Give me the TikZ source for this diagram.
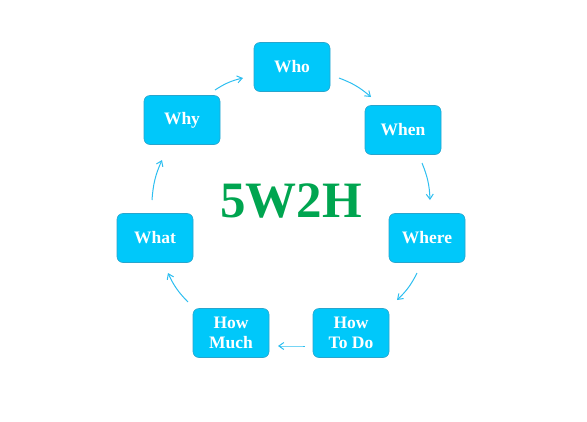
\documentclass[tikz,border=0pt]{standalone}
\usepackage{fontspec}
\setmainfont{Liberation Serif}
\usetikzlibrary{arrows.meta}
\definecolor{boxfill}{RGB}{0,200,250}
\definecolor{boxline}{RGB}{40,165,205}
\definecolor{arrcol}{RGB}{45,190,240}
\definecolor{titlegreen}{RGB}{0,165,80}
\begin{document}
\begin{tikzpicture}[x=1pt,y=-1pt,
  wbox/.style={draw=boxline,line width=0.6pt,fill=boxfill,rounded corners=6pt,
    minimum width=76pt,minimum height=49pt,inner sep=0pt,align=center,
    text=white,font=\fontsize{17.5}{19.5}\selectfont\bfseries},
  arr/.style={draw=arrcol,line width=1pt,-{Straight Barb[length=5pt,width=7pt]},bend left=10}]
\useasboundingbox (0,0) rectangle (587,421);
\node[wbox] (who)   at (292,67)  {Who};
\node[wbox] (when)  at (403,130) {When};
\node[wbox] (where) at (427,238) {Where};
\node[wbox] (todo)  at (351,333) {How\\To Do};
\node[wbox] (much)  at (231,333) {How\\Much};
\node[wbox] (what)  at (155,238) {What};
\node[wbox] (why)   at (182,120) {Why};
\node[text=titlegreen,font=\fontsize{51}{51}\selectfont\bfseries] (title) at (291,201) {5W2H};
\coordinate (a1) at (339,78);  \coordinate (b1) at (371,97);
\coordinate (a2) at (422,163); \coordinate (b2) at (430,200);
\coordinate (a3) at (417,273); \coordinate (b3) at (397,300);
\coordinate (a4) at (305,346); \coordinate (b4) at (278,346);
\coordinate (a5) at (188,302); \coordinate (b5) at (168,273);
\coordinate (a6) at (152,200); \coordinate (b6) at (162,160);
\coordinate (a7) at (215,90);  \coordinate (b7) at (243,78);
\draw[arr] (a1) to (b1);
\draw[arr] (a2) to (b2);
\draw[arr] (a3) to (b3);
\draw[arr,bend left=0] (a4) to (b4);
\draw[arr] (a5) to (b5);
\draw[arr] (a6) to (b6);
\draw[arr] (a7) to (b7);
\end{tikzpicture}
\end{document}
